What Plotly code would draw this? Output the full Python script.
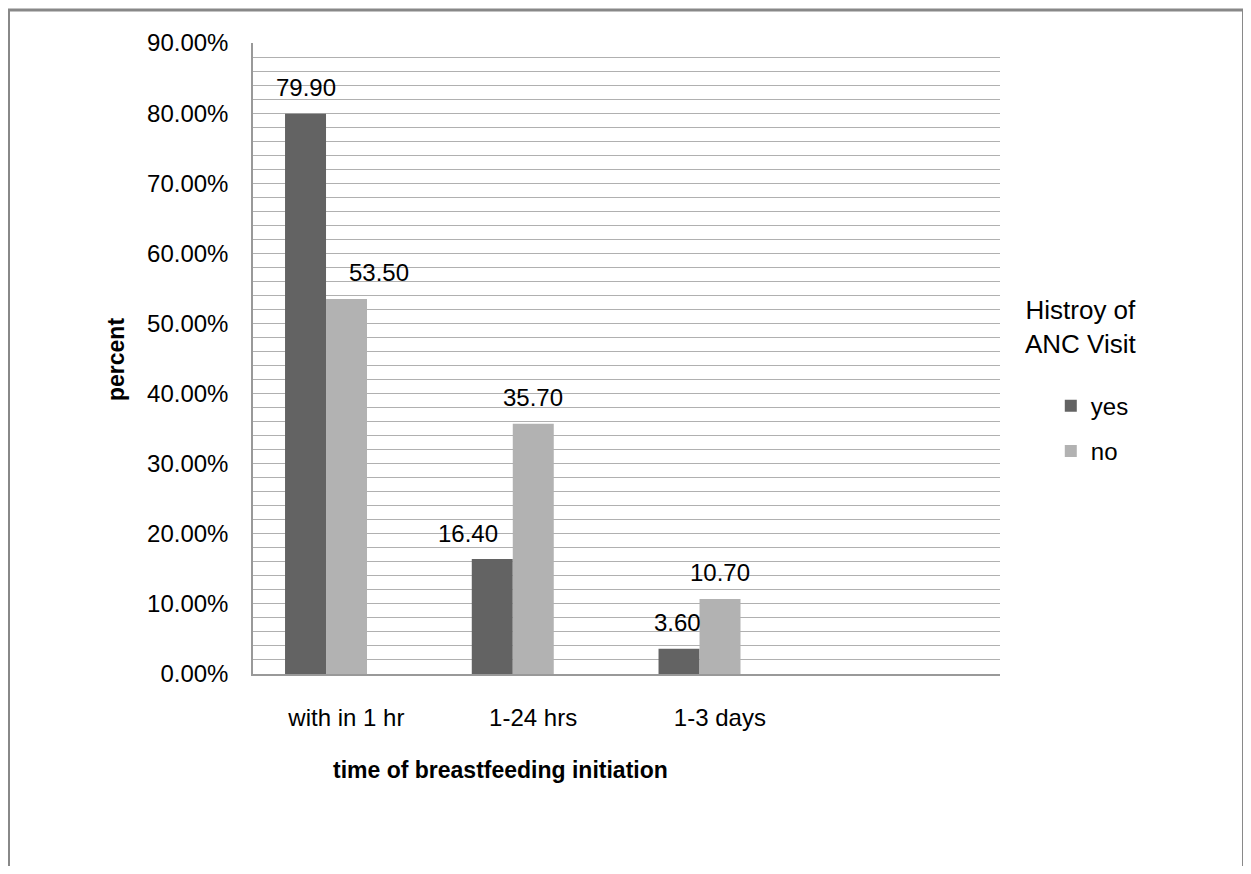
import plotly.graph_objects as go

# ---- data ----
categories = ["with in 1 hr", "1-24 hrs", "1-3 days"]
yes_values = [79.90, 16.40, 3.60]
no_values = [53.50, 35.70, 10.70]
series_names = ["yes", "no"]
legend_title = "Histroy of<br>ANC Visit"
x_title = "time of breastfeeding initiation"
y_title = "percent"

# ---- style ----
FONT = "Liberation Sans, Arial, sans-serif"
colors = {"yes": "#636363", "no": "#b2b2b2"}
bar_w = 0.2195
offsets = {"yes": -0.3285, "no": -0.109}
# extra horizontal nudges of the value labels (pixels)
label_nudge = {"yes": [0, -24, -2], "no": [32, 0, 0]}

fig = go.Figure()
for name, vals in zip(series_names, [yes_values, no_values]):
    fig.add_trace(go.Bar(
        name=name, x=categories, y=[v / 100 for v in vals],
        width=bar_w, offset=offsets[name],
        marker=dict(color=colors[name], line=dict(width=0)),
        legendgroup=name,
    ))
    for i, v in enumerate(vals):
        fig.add_annotation(
            x=i + offsets[name] + bar_w / 2, y=v / 100, xref="x", yref="y",
            text=f"{v:.2f}", showarrow=False,
            xanchor="center", yanchor="middle",
            xshift=label_nudge[name][i], yshift=26,
            font=dict(family=FONT, size=24, color="#000000"),
        )

# axis titles and legend title
fig.add_annotation(x=0.3307, y=-0.152, xref="paper", yref="paper", text=f"<b>{x_title}</b>",
                   showarrow=False, xanchor="center", yanchor="middle",
                   font=dict(family=FONT, size=23, color="#000000"))
fig.add_annotation(x=-0.1834, y=0.4976, xref="paper", yref="paper", text=f"<b>{y_title}</b>",
                   textangle=-90, showarrow=False, xanchor="center", yanchor="middle",
                   font=dict(family=FONT, size=23, color="#000000"))
fig.add_annotation(x=1.1084, y=0.550, xref="paper", yref="paper", text=legend_title,
                   showarrow=False, xanchor="center", yanchor="middle", align="center",
                   font=dict(family=FONT, size=26, color="#000000"))

# outer chart border
fig.add_shape(type="rect", xref="paper", yref="paper",
              x0=-0.3273, x1=1.326, y0=-0.35, y1=1.0523,
              line=dict(color="#888888", width=3), fillcolor="rgba(0,0,0,0)", layer="below")

fig.update_layout(
    width=1243, height=858,
    margin=dict(l=245, r=251, t=35, b=192),
    paper_bgcolor="white", plot_bgcolor="white",
    barmode="overlay",
    font=dict(family=FONT, size=24, color="#000000"),
    showlegend=True,
    legend=dict(x=1.068, y=0.46, xanchor="left", yanchor="top",
                traceorder="grouped", tracegroupgap=11,
                font=dict(family=FONT, size=24, color="#000000"),
                bgcolor="rgba(0,0,0,0)"),
    xaxis=dict(type="category", range=[-0.5, 3.5], showgrid=False,
               showline=True, linecolor="#999999", linewidth=1.5,
               ticks="", ticklabelstandoff=21,
               tickfont=dict(family=FONT, size=24, color="#000000")),
    yaxis=dict(range=[0, 0.9], dtick=0.1, tick0=0, tickformat=".2%",
               showgrid=True, gridcolor="#b0b0b0", gridwidth=1,
               minor=dict(dtick=0.02, tick0=0, showgrid=True, gridcolor="#b0b0b0", gridwidth=1),
               zeroline=False, showline=True, linecolor="#999999", linewidth=1.5,
               ticks="", ticklabelstandoff=18,
               tickfont=dict(family=FONT, size=24, color="#000000")),
)

fig.write_html("out.html")
